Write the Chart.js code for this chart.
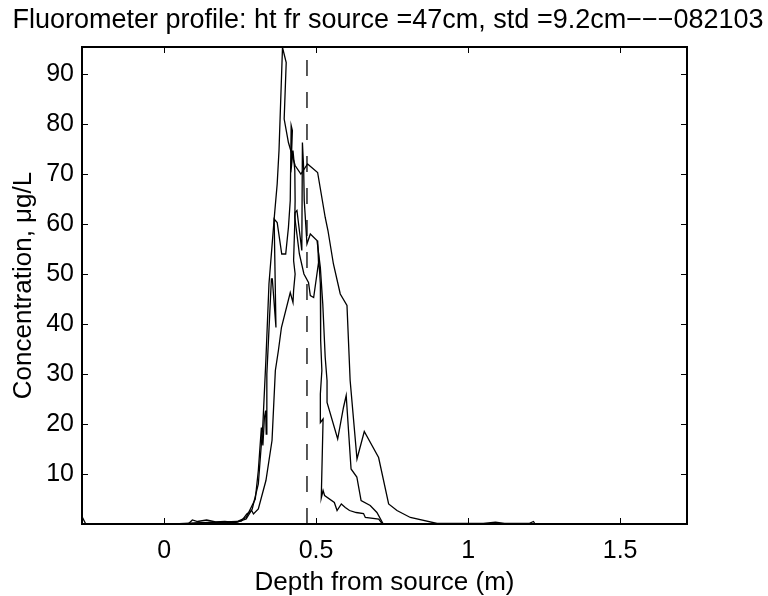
<!DOCTYPE html>
<html><head><meta charset="utf-8">
<script src="https://cdn.jsdelivr.net/npm/chart.js@4.4.0/dist/chart.umd.min.js"></script>
<style>html,body{margin:0;padding:0;background:#fff;}canvas{display:block}</style>
</head><body>
<canvas id="c" width="768" height="596"></canvas>
<script>
const titleText = 'Fluorometer profile: ht fr source =47cm, std =9.2cm\u2212\u2212\u2212082103';
const xTitle = 'Depth from source (m)';
const yTitle = 'Concentration, \u03bcg/L';
const xTicks = [0, 0.5, 1, 1.5];
const yTicks = [10, 20, 30, 40, 50, 60, 70, 80, 90];
const xRange = [-0.27, 1.72];
const yRange = [0, 95.4];
const sourceDepth = 0.47;

const depthA = [-0.27,-0.258,0.0,0.1,0.15,0.2,0.24,0.27,0.29,0.31,0.325,0.335,0.345,0.363,0.372,0.378,0.3895,0.4017,0.395,0.409,0.431,0.45,0.472,0.505,0.53,0.539,0.557,0.5795,0.6016,0.612,0.6345,0.6585,0.7056,0.7386,0.766,0.81,0.898,1.05,1.09,1.12,1.2,1.215,1.22];
const concA  = [1.5,0.05,0.05,0.1,0.3,0.2,0.4,1.0,3,8,20,33,48,61.7,68,74.7,95.3,92.3,81,76.3,71.7,70,72,70.3,61.3,58.7,52,46,43.7,28.7,13,18.5,13.3,4,2.7,1.3,0.1,0.1,0.35,0.1,0.1,0.5,0.05];

const depthB = [0.05,0.1,0.15,0.2,0.24,0.27,0.30,0.31,0.32,0.325,0.33,0.334,0.336,0.338,0.353,0.356,0.368,0.362,0.372,0.387,0.400,0.409,0.415,0.418,0.422,0.417,0.424,0.43,0.431,0.43,0.445,0.46,0.475,0.481,0.492,0.508,0.505,0.514,0.515,0.519,0.514,0.514,0.523,0.517,0.523,0.528,0.56,0.569,0.583,0.596,0.61,0.632,0.656,0.662,0.706,0.717,0.9];
const concB  = [0.05,0.2,0.3,0.4,0.5,1.3,5,10.7,19.3,15.7,21.3,22.7,18,30,49,49,39.3,61,60.3,54,54,59.3,64.7,79.7,78.7,70.3,74.7,70.7,64.7,61.3,54,50,48.3,45.7,45.3,52.3,56.7,48,36.7,30.7,26,20.3,21,5.2,6.7,5.7,4.3,2.7,4,3.3,2.7,2.3,2.1,1.3,1,0.1,0.05];

const depthC = [0.08,0.093,0.11,0.14,0.17,0.2,0.23,0.255,0.272,0.288,0.294,0.31,0.335,0.355,0.366,0.376,0.386,0.415,0.424,0.426,0.431,0.426,0.431,0.437,0.453,0.455,0.459,0.461,0.47,0.481,0.503,0.514,0.522,0.53,0.536,0.536,0.571,0.59,0.599,0.615,0.634,0.648,0.678,0.70,0.72,0.9];
const concC  = [0.05,0.8,0.5,0.8,0.4,0.5,0.3,0.6,2,2.7,2,3,8.7,16.7,30.7,34.7,39.3,46.3,44.3,46.7,50,52.7,62.3,62.7,54.7,76.3,71.3,64.7,56,58,56.7,51.3,44,33.3,28.7,24.3,17,23.3,25.7,11,9.4,4.7,3.7,2.3,0.1,0.05];

const FONT = "'Liberation Sans', Arial, Helvetica, sans-serif";
function pts(d, c) { return d.map((x, i) => ({ x: x, y: c[i] })); }

const frame = {
  id: 'frame',
  afterDatasetsDraw(chart) {
    const ctx = chart.ctx, a = chart.chartArea, xs = chart.scales.x, ys = chart.scales.y;
    ctx.save();
    ctx.strokeStyle = '#000';
    ctx.lineWidth = 1;
    ctx.beginPath();
    xs.ticks.forEach(t => {
      const p = Math.round(xs.getPixelForValue(t.value)) + 0.5;
      ctx.moveTo(p, a.bottom); ctx.lineTo(p, a.bottom - 6);
      ctx.moveTo(p, a.top); ctx.lineTo(p, a.top + 6);
    });
    ys.ticks.forEach(t => {
      const p = Math.round(ys.getPixelForValue(t.value)) + 0.5;
      ctx.moveTo(a.left, p); ctx.lineTo(a.left + 6, p);
      ctx.moveTo(a.right, p); ctx.lineTo(a.right - 6, p);
    });
    ctx.stroke();
    ctx.lineWidth = 2;
    ctx.strokeRect(a.left, a.top, a.right - a.left, a.bottom - a.top);
    ctx.fillStyle = '#000';
    ctx.textAlign = 'center';
    ctx.textBaseline = 'alphabetic';
    ctx.font = '27px ' + FONT;
    ctx.fillText(titleText, 388, 28);
    ctx.font = '26px ' + FONT;
    ctx.fillText(xTitle, (a.left + a.right) / 2, 590);
    ctx.translate(31, (a.top + a.bottom) / 2);
    ctx.rotate(-Math.PI / 2);
    ctx.fillText(yTitle, 0, 0);
    ctx.restore();
  }
};

const lineStyle = { borderColor: '#000', borderWidth: 1.3, pointRadius: 0, fill: false, tension: 0 };

new Chart(document.getElementById('c'), {
  type: 'line',
  data: {
    datasets: [
      Object.assign({ label: 'A', data: pts(depthA, concA) }, lineStyle),
      Object.assign({ label: 'B', data: pts(depthB, concB) }, lineStyle),
      Object.assign({ label: 'C', data: pts(depthC, concC) }, lineStyle),
      { label: 'source', data: [{ x: sourceDepth, y: yRange[0] }, { x: sourceDepth, y: yRange[1] }],
        borderColor: '#000', borderWidth: 1.3, borderDash: [16, 16], pointRadius: 0, fill: false }
    ]
  },
  options: {
    responsive: false, animation: false, devicePixelRatio: 1,
    layout: { padding: { left: 0, top: 47, right: 81, bottom: 0 } },
    plugins: { legend: { display: false }, tooltip: { enabled: false }, title: { display: false } },
    scales: {
      x: {
        type: 'linear', min: xRange[0], max: xRange[1],
        afterBuildTicks: s => { s.ticks = xTicks.map(v => ({ value: v })); },
        afterFit: s => { s.height = 72; },
        grid: { display: false, drawTicks: false },
        border: { display: false },
        ticks: { font: { family: FONT, size: 25 }, color: '#000', padding: 12, maxRotation: 0, autoSkip: false, callback: v => String(v) }
      },
      y: {
        type: 'linear', min: yRange[0], max: yRange[1],
        afterBuildTicks: s => { s.ticks = yTicks.map(v => ({ value: v })); },
        afterFit: s => { s.width = 82; },
        grid: { display: false, drawTicks: false },
        border: { display: false },
        ticks: { font: { family: FONT, size: 25 }, color: '#000', padding: 8, autoSkip: false, callback: v => String(v) }
      }
    }
  },
  plugins: [frame]
});
</script>
</body></html>
